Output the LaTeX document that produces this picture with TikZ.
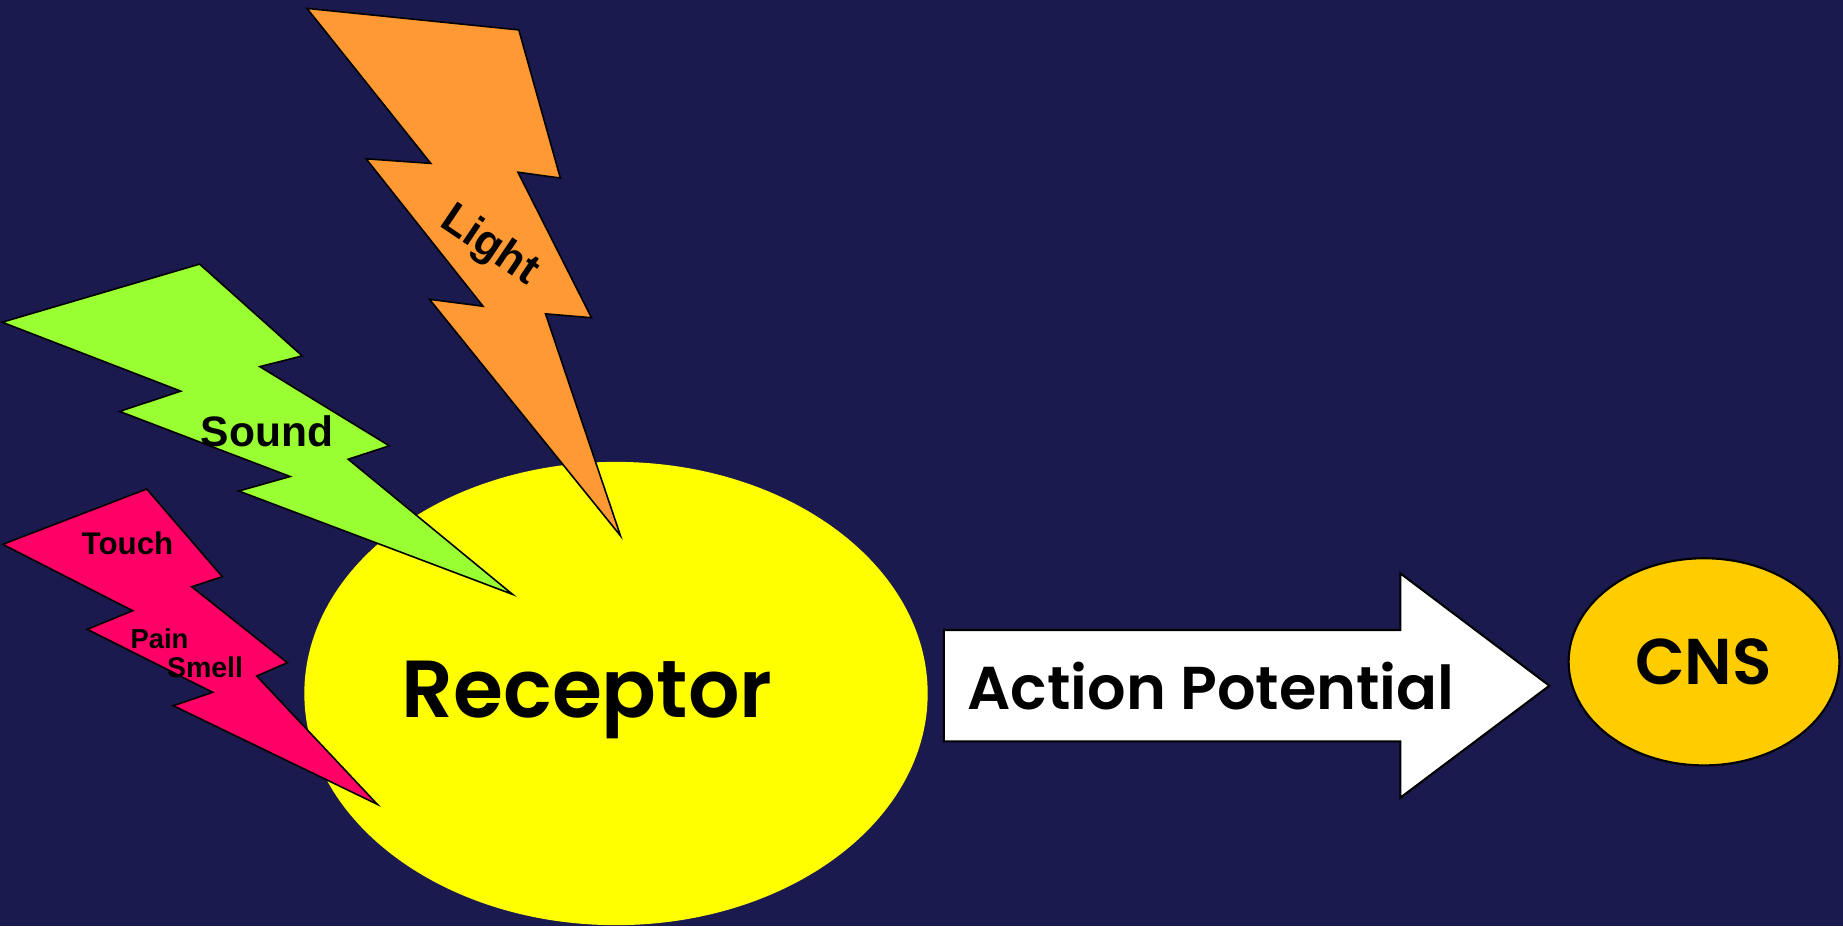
\documentclass[tikz,border=0pt]{standalone}
\usepackage{fontspec}
\setmainfont{Liberation Sans}
\newfontfamily\comicfont{Poppins}[BoldFont={* SemiBold}]
\usetikzlibrary{shapes.geometric}
\definecolor{bgnavy}{RGB}{27,26,78}
\definecolor{boltorange}{RGB}{255,153,51}
\definecolor{boltgreen}{RGB}{153,255,51}
\definecolor{boltpink}{RGB}{255,0,102}
\definecolor{recyellow}{RGB}{255,255,0}
\definecolor{cnsgold}{RGB}{255,204,0}
\tikzset{
  bolt/.style={draw=black, line width=0.45pt, line join=miter},
  bolttext/.style={font=\bfseries, text=black, inner sep=0pt},
  comictext/.style={font=\comicfont\bfseries, text=black, inner sep=0pt},
}
\begin{document}
\begin{tikzpicture}[x=0.01cm,y=-0.01cm]
\fill[bgnavy] (0,0) rectangle (1843,926);
\useasboundingbox (0,0) rectangle (1843,926);

% Receptor
\node (rec) [ellipse, fill=recyellow, minimum width=6.23cm, minimum height=4.63cm, inner sep=0pt] at (616,693.5) {};
\node (rectext) [comictext, font=\comicfont\bfseries\fontsize{23pt}{23pt}\selectfont] at (587,700) {Receptor};

% Light bolt
\filldraw[bolt, fill=boltorange] (307,8.4) -- (518.8,29.9) -- (560.3,178) -- (517.9,172.2) -- (591.5,317.7) -- (545.5,313.8) -- (620.5,535.8) -- (429.5,299.3) -- (483,306.2) -- (366.1,158.8) -- (430.8,163.4) -- cycle;
\node (light) [bolttext, font=\bfseries\fontsize{12.5pt}{12.5pt}\selectfont, rotate=-34] at (489,246) {Light};

% Sound bolt
\filldraw[bolt, fill=boltgreen] (2.2,322.2) -- (199.6,264.1) -- (302.2,355.9) -- (259.8,366.6) -- (389.3,445.8) -- (348.2,459.2) -- (512.5,594.3) -- (238.8,491) -- (290.2,476.5) -- (119.6,411.4) -- (180.8,391.1) -- cycle;
\node (sound) [bolttext, font=\bfseries\fontsize{12.1pt}{12.1pt}\selectfont] at (267,431) {Sound};

% Touch bolt
\filldraw[bolt, fill=boltpink] (2.7,544.3) -- (146.7,489) -- (222.3,576.7) -- (191.7,586.7) -- (287.3,662.7) -- (256.7,676) -- (377.3,804.3) -- (173.3,705.7) -- (212.7,692.3) -- (87.3,629.3) -- (132.7,610.7) -- cycle;
\node (touch) [bolttext, font=\bfseries\fontsize{8.9pt}{8.9pt}\selectfont] at (127.5,543.3) {Touch};
\node (pain) [bolttext, font=\bfseries\fontsize{7.8pt}{7.8pt}\selectfont] at (159.5,639) {Pain};
\node (smell) [bolttext, font=\bfseries\fontsize{8.1pt}{8.1pt}\selectfont] at (205,667.3) {Smell};

% Action potential arrow
\coordinate (a1) at (943.9,630);
\coordinate (a2) at (1400.3,630);
\coordinate (a3) at (1400.3,573.3);
\coordinate (tip) at (1549.4,685.7);
\coordinate (a5) at (1400.3,797.7);
\coordinate (a6) at (1400.3,741.3);
\coordinate (a7) at (943.9,741.3);
\filldraw[draw=black, fill=white, line width=0.6pt, line join=miter] (a1) -- (a2) -- (a3) -- (tip) -- (a5) -- (a6) -- (a7) -- cycle;
\node (aptext) [comictext, font=\comicfont\bfseries\fontsize{17.2pt}{17.2pt}\selectfont] at (1211,686) {Action Potential};

% CNS
\node (cns) [ellipse, draw=black, line width=0.6pt, fill=cnsgold, minimum width=2.706cm, minimum height=2.07cm, inner sep=0pt] at (1704,661.8) {};
\node (cnstext) [comictext, font=\comicfont\bfseries\fontsize{18.4pt}{18.4pt}\selectfont] at (1703.6,661.7) {CNS};
\end{tikzpicture}
\end{document}
